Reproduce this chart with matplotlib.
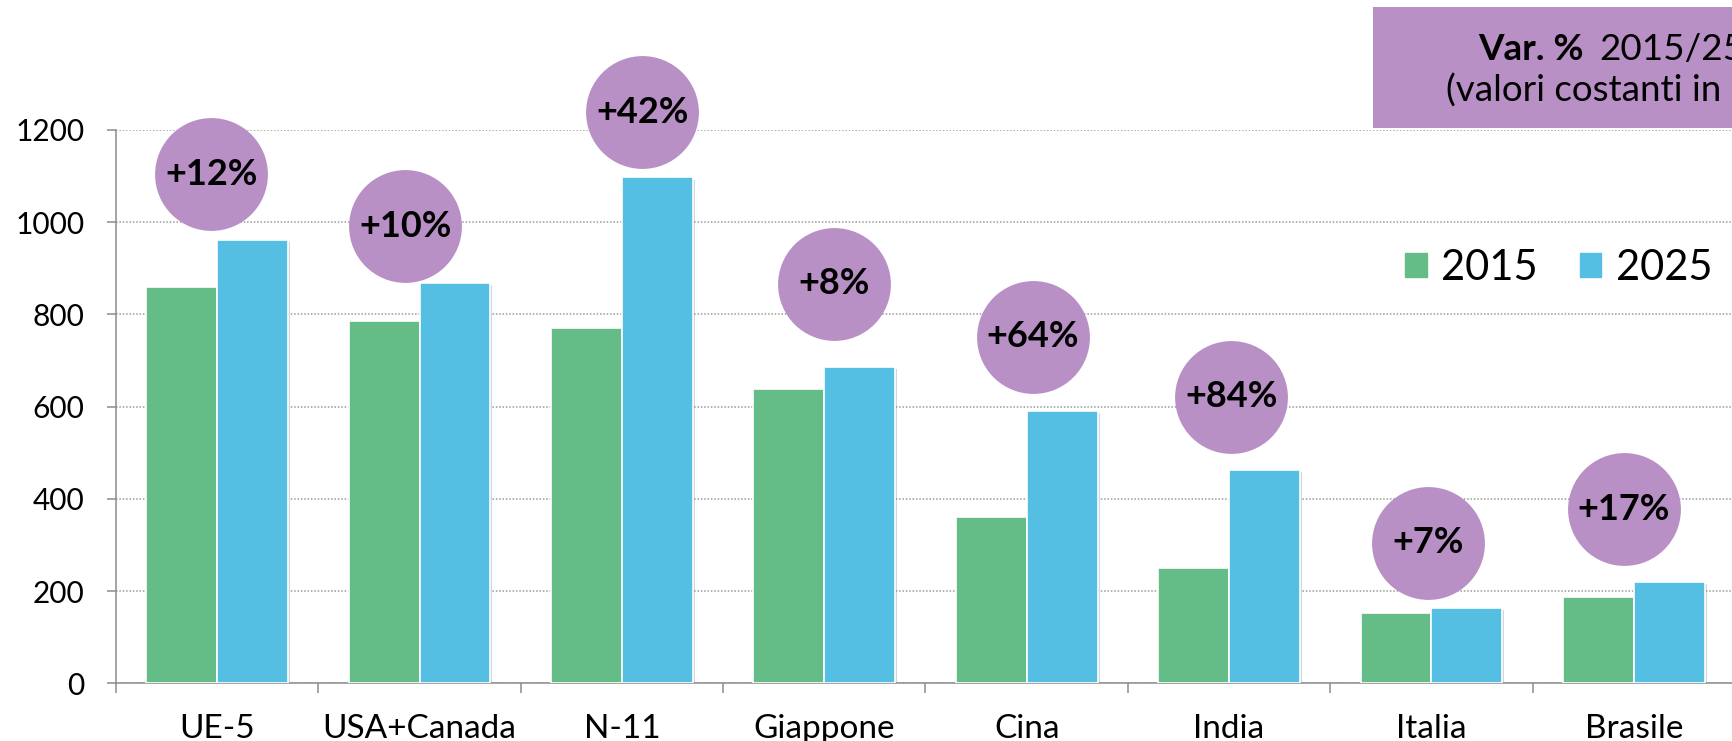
import matplotlib
matplotlib.use('Agg')

import matplotlib.pyplot as plt
import matplotlib.patches as patches
import matplotlib.patheffects as pe
import numpy as np

plt.rcParams['font.family'] = ['Lato', 'DejaVu Sans']

# Market values by area, 2015 vs 2025
categories = ['UE-5', 'USA+Canada', 'N-11', 'Giappone', 'Cina', 'India', 'Italia', 'Brasile']
values_2015 = [860, 786, 770, 638, 361, 251, 153, 187]
values_2025 = [961, 868, 1097, 686, 590, 463, 164, 219]
pct_labels = ['+12%', '+10%', '+42%', '+8%', '+64%', '+84%', '+7%', '+17%']

# bubble centres for the % labels (category offset, y in data units)
bubble_dx = [-0.03, -0.07, 0.10, 0.05, 0.03, 0.01, -0.015, -0.05]
bubble_y = [1104, 991, 1238, 867, 752, 622, 305, 378]

GREEN = '#64BD87'
BLUE = '#55BFE3'
PURPLE = '#B890C6'
AXIS_GREY = '#8C8C8C'

W, H = 1732, 741
fig = plt.figure(figsize=(W / 100, H / 100), dpi=100)

left, bottom, top = 116 / W, (H - 683.3) / H, (H - 130) / H
ax = fig.add_axes([left, bottom, 1619 / W, top - bottom])

x = np.arange(len(categories))
bw = 0.35
shadow = [pe.SimplePatchShadow(offset=(1.5, -1.5), shadow_rgbFace='#888888', alpha=0.35), pe.Normal()]

b1 = ax.bar(x - bw / 2, values_2015, bw, color=GREEN, edgecolor='white', linewidth=1.2, zorder=3, label='2015')
b2 = ax.bar(x + bw / 2, values_2025, bw, color=BLUE, edgecolor='white', linewidth=1.2, zorder=3, label='2025')
for bar in list(b1) + list(b2):
    bar.set_path_effects(shadow)

# percentage bubbles
ax.scatter(x + np.array(bubble_dx), bubble_y, s=6600, color=PURPLE, linewidths=0, zorder=4, clip_on=False)
for xi, dx, yi, lab in zip(x, bubble_dx, bubble_y, pct_labels):
    ax.text(xi + dx, yi, lab, ha='center', va='center', fontsize=26, fontweight='bold',
            color='black', zorder=5, clip_on=False)

ax.set_xlim(-0.5, len(categories) - 0.5)
ax.set_ylim(0, 1200)
ax.set_yticks(np.arange(0, 1201, 200))
ax.yaxis.grid(True, linestyle=(0, (1, 1.2)), color='#9A9A9A', linewidth=1.1, zorder=0)
ax.set_axisbelow(True)

ax.set_xticks(x)
ax.set_xticklabels(categories)
ax.set_xticks(np.arange(-0.5, len(categories)), minor=True)
ax.tick_params(axis='x', which='major', length=0, pad=22, labelsize=24)
ax.tick_params(axis='x', which='minor', length=7, width=1.1, color=AXIS_GREY)
ax.tick_params(axis='y', length=6.5, width=1.1, color=AXIS_GREY, pad=16, labelsize=21.5)

for side in ['top', 'right']:
    ax.spines[side].set_visible(False)
for side in ['left', 'bottom']:
    ax.spines[side].set_color(AXIS_GREY)
    ax.spines[side].set_linewidth(1.1)

# legend
handles = [patches.Patch(color=GREEN, label='2015'), patches.Patch(color=BLUE, label='2025')]
fig.legend(handles=handles, loc='center left', bbox_to_anchor=(1405 / W, 1 - 268 / H),
           ncol=2, frameon=False, fontsize=30, handlelength=0.52, handleheight=0.52,
           handletextpad=0.35, columnspacing=1.0, borderpad=0, borderaxespad=0)

# header box
fig.patches.append(patches.Rectangle((1373 / W, 1 - 128 / H), (W - 1373) / W + 0.01, 121 / H,
                                     transform=fig.transFigure, facecolor=PURPLE, edgecolor='none', zorder=6))
fig.text(1478 / W, 1 - 60 / H, 'Var. %', fontsize=26.5, fontweight='bold', ha='left', va='baseline', zorder=7)
fig.text(1599 / W, 1 - 60 / H, '2015/25', fontsize=26.5, ha='left', va='baseline', zorder=7)
fig.text(1446 / W, 1 - 102 / H, '(valori costanti in', fontsize=26.5, ha='left', va='baseline', zorder=7)

fig.savefig('out.png', dpi=100)
